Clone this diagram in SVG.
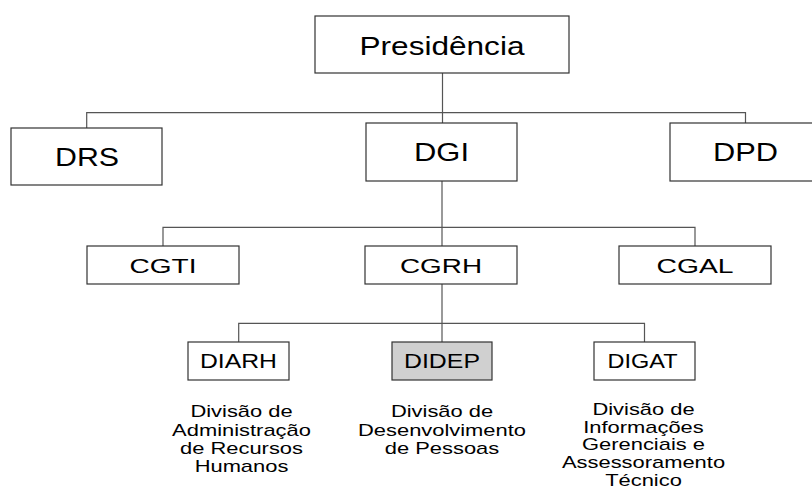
<svg xmlns="http://www.w3.org/2000/svg" width="812" height="489" viewBox="0 0 812 489">
<style>
.box{fill:#fff;stroke:#333;stroke-width:1.2}
.hl{fill:#d0d0d0}
.ln{stroke:#555;stroke-width:1.2;fill:none}
text{font-family:"Liberation Sans",Arial,sans-serif;fill:#000;text-anchor:middle}
.t1{font-size:25px}
.t2{font-size:25px}
.t3{font-size:20px}
.t4{font-size:20px}
.d{font-size:16px}
</style>
<rect width="812" height="489" fill="#fff"/>
<g id="connectors">
<path class="ln" d="M442.5 73V123"/>
<path class="ln" d="M86.7 128V112.7H745.5V123"/>
<path class="ln" d="M442 181V246"/>
<path class="ln" d="M163 246V227.3H695V246"/>
<path class="ln" d="M442 284V342"/>
<path class="ln" d="M238.7 342V323.3H644.5V342"/>
</g>
<g id="presidencia">
<rect class="box" x="315" y="16" width="254" height="57"/>
<text class="t1" x="442" y="54.5" textLength="165" lengthAdjust="spacingAndGlyphs">Presidência</text>
</g>
<g id="drs">
<rect class="box" x="11" y="128" width="151" height="57"/>
<text class="t2" x="87" y="165.5" textLength="64" lengthAdjust="spacingAndGlyphs">DRS</text>
</g>
<g id="dgi">
<rect class="box" x="366" y="123" width="151" height="58"/>
<text class="t2" x="441.5" y="161" textLength="55" lengthAdjust="spacingAndGlyphs">DGI</text>
</g>
<g id="dpd">
<rect class="box" x="670" y="123" width="151" height="58"/>
<text class="t2" x="745.5" y="161" textLength="65" lengthAdjust="spacingAndGlyphs">DPD</text>
</g>
<g id="cgti">
<rect class="box" x="87" y="246" width="152" height="38"/>
<text class="t3" x="163" y="272.5" textLength="67" lengthAdjust="spacingAndGlyphs">CGTI</text>
</g>
<g id="cgrh">
<rect class="box" x="365" y="246" width="152" height="38"/>
<text class="t3" x="441" y="272.5" textLength="82" lengthAdjust="spacingAndGlyphs">CGRH</text>
</g>
<g id="cgal">
<rect class="box" x="619" y="246" width="152" height="38"/>
<text class="t3" x="695" y="272.5" textLength="77" lengthAdjust="spacingAndGlyphs">CGAL</text>
</g>
<g id="diarh">
<rect class="box" x="188" y="342" width="101" height="38"/>
<text class="t4" x="238.5" y="368.3" textLength="77" lengthAdjust="spacingAndGlyphs">DIARH</text>
<g transform="translate(241.5 0) scale(1.37 1)">
<text class="d" x="0" y="417.3">Divisão de</text>
<text class="d" x="0" y="435.7">Administração</text>
<text class="d" x="0" y="454.2">de Recursos</text>
<text class="d" x="0" y="472.5">Humanos</text>
</g>
</g>
<g id="didep">
<rect class="box hl" x="392" y="342" width="100" height="38"/>
<text class="t4" x="442" y="368.3" textLength="76" lengthAdjust="spacingAndGlyphs">DIDEP</text>
<g transform="translate(442 0) scale(1.37 1)">
<text class="d" x="0" y="417.3">Divisão de</text>
<text class="d" x="0" y="435.7">Desenvolvimento</text>
<text class="d" x="0" y="454.2">de Pessoas</text>
</g>
</g>
<g id="digat">
<rect class="box" x="594" y="342" width="101" height="38"/>
<text class="t4" x="642.5" y="368.3" textLength="70" lengthAdjust="spacingAndGlyphs">DIGAT</text>
<g transform="translate(643.5 0) scale(1.37 1)">
<text class="d" x="0" y="415.5">Divisão de</text>
<text class="d" x="0" y="433">Informações</text>
<text class="d" x="0" y="450.5">Gerenciais e</text>
<text class="d" x="0" y="468">Assessoramento</text>
<text class="d" x="0" y="486.5">Técnico</text>
</g>
</g>
</svg>
